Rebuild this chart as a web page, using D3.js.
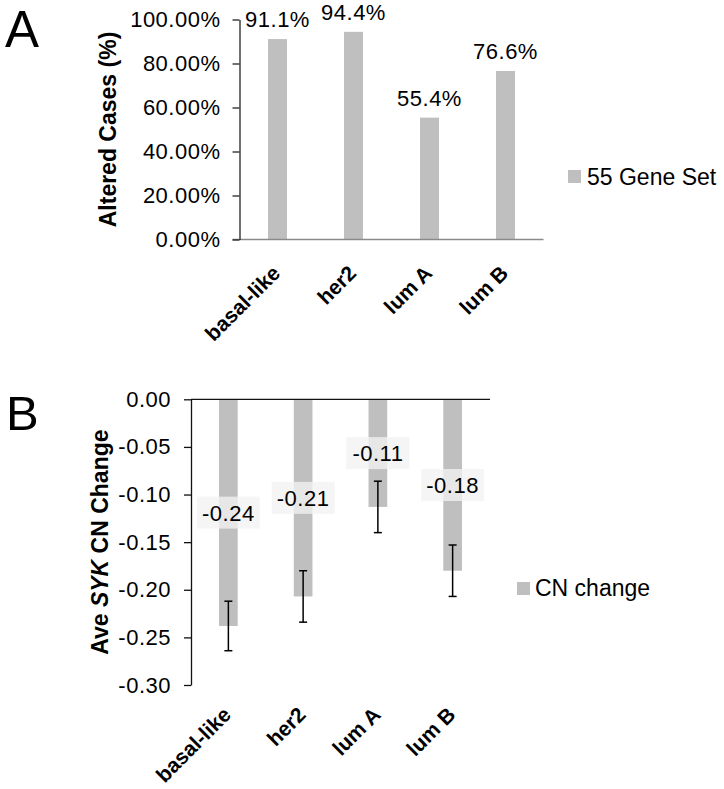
<!DOCTYPE html>
<html>
<head>
<meta charset="utf-8">
<script src="https://cdn.jsdelivr.net/npm/d3@7"></script>
<style>
  html, body { margin: 0; padding: 0; background: #fff; }
  svg { display: block; font-family: "Liberation Sans", Arial, sans-serif; }
</style>
</head>
<body>
<svg id="chart" width="724" height="789"></svg>
<script>
// ---- Data ----
const categories = ["basal-like", "her2", "lum A", "lum B"];
// Panel A: altered cases (%)
const alteredValues = [91.1, 94.4, 55.4, 76.6];
const alteredTicks = [0, 20, 40, 60, 80, 100];
const alteredSeriesName = "55 Gene Set";
// Panel B: average SYK copy-number change
const cnValues = [-0.238, -0.207, -0.113, -0.180];
const cnErrors = [0.026, 0.027, 0.027, 0.027];
const cnTicks = [0, -0.05, -0.10, -0.15, -0.20, -0.25, -0.30];
const cnSeriesName = "CN change";

const BAR = "#bfbfbf";
const svg = d3.select("#chart");

// ================= Panel A =================
const A = { left: 239.5, right: 543.5, top: 19.5, bottom: 239.5 };
const xA = d3.scaleBand().domain(categories).range([A.left, A.right])
  .paddingInner(0.75).paddingOuter(0.375);
const yA = d3.scaleLinear().domain([0, 100]).range([A.bottom, A.top]);

svg.append("text").attr("x", 5).attr("y", 47)
  .attr("font-size", 51).attr("fill", "#000").text("A");

svg.selectAll("rect.barA").data(alteredValues).enter().append("rect")
  .attr("class", "barA")
  .attr("x", (d, i) => xA(categories[i]))
  .attr("width", xA.bandwidth())
  .attr("y", d => yA(d))
  .attr("height", d => yA(0) - yA(d))
  .attr("fill", BAR);

// baseline (gray)
svg.append("line").attr("x1", A.left - 7).attr("x2", A.right)
  .attr("y1", yA(0)).attr("y2", yA(0))
  .attr("stroke", "#8a8a8a").attr("stroke-width", 1.3);

const axA = svg.append("g").attr("transform", `translate(${A.left},0)`)
  .call(d3.axisLeft(yA).tickValues(alteredTicks)
    .tickFormat(d => d3.format(".2f")(d) + "%")
    .tickSize(7).tickPadding(12).tickSizeOuter(0));
axA.select(".domain").attr("stroke", "#222").attr("stroke-width", 1.3);
axA.selectAll(".tick line").attr("stroke", "#222").attr("stroke-width", 1.3);
axA.selectAll(".tick text").attr("font-size", 22).attr("fill", "#000")
  .attr("letter-spacing", "0.5px").attr("font-family", "Liberation Sans, Arial, sans-serif");

svg.selectAll("text.lblA").data(alteredValues).enter().append("text")
  .attr("class", "lblA")
  .attr("x", (d, i) => xA(categories[i]) + xA.bandwidth() / 2)
  .attr("y", d => yA(d) - 12)
  .attr("text-anchor", "middle").attr("font-size", 22)
  .attr("letter-spacing", "0.5px").attr("fill", "#000")
  .text(d => d3.format(".1f")(d) + "%");

svg.selectAll("text.catA").data(categories).enter().append("text")
  .attr("class", "catA")
  .attr("transform", d => `translate(${xA(d) + xA.bandwidth() / 2 + 4},${A.bottom + 35}) rotate(-45)`)
  .attr("text-anchor", "end").attr("font-size", 21).attr("font-weight", "bold")
  .attr("fill", "#000").text(d => d);

svg.append("text")
  .attr("transform", `translate(116,${(A.top + A.bottom) / 2}) rotate(-90)`)
  .attr("text-anchor", "middle").attr("font-size", 23).attr("font-weight", "bold")
  .attr("fill", "#000").text("Altered Cases (%)");

// legend A
svg.append("rect").attr("x", 568).attr("y", 170).attr("width", 13).attr("height", 13).attr("fill", BAR);
svg.append("text").attr("x", 587).attr("y", 185).attr("font-size", 23).attr("fill", "#000")
  .text(alteredSeriesName);

// ================= Panel B =================
const B = { left: 191, right: 490, top: 399.3, bottom: 685 };
const xB = d3.scaleBand().domain(categories).range([B.left, B.right])
  .paddingInner(0.75).paddingOuter(0.375);
const yB = d3.scaleLinear().domain([0, -0.30]).range([B.top, B.bottom]);

svg.append("text").attr("x", 6).attr("y", 430)
  .attr("font-size", 49).attr("fill", "#000").text("B");

svg.selectAll("rect.barB").data(cnValues).enter().append("rect")
  .attr("class", "barB")
  .attr("x", (d, i) => xB(categories[i]))
  .attr("width", xB.bandwidth())
  .attr("y", yB(0))
  .attr("height", d => yB(d) - yB(0))
  .attr("fill", BAR);

// error bars
const eb = svg.selectAll("g.err").data(cnValues).enter().append("g").attr("class", "err");
eb.append("line")
  .attr("x1", (d, i) => xB(categories[i]) + xB.bandwidth() / 2)
  .attr("x2", (d, i) => xB(categories[i]) + xB.bandwidth() / 2)
  .attr("y1", (d, i) => yB(d + cnErrors[i]))
  .attr("y2", (d, i) => yB(d - cnErrors[i]))
  .attr("stroke", "#000").attr("stroke-width", 1.5);
[1, -1].forEach(s => {
  eb.append("line")
    .attr("x1", (d, i) => xB(categories[i]) + xB.bandwidth() / 2 - 4)
    .attr("x2", (d, i) => xB(categories[i]) + xB.bandwidth() / 2 + 4)
    .attr("y1", (d, i) => yB(d + s * cnErrors[i]))
    .attr("y2", (d, i) => yB(d + s * cnErrors[i]))
    .attr("stroke", "#000").attr("stroke-width", 1.5);
});

// top axis line at 0
svg.append("line").attr("x1", B.left).attr("x2", B.right)
  .attr("y1", yB(0)).attr("y2", yB(0))
  .attr("stroke", "#111").attr("stroke-width", 1.3);

const axB = svg.append("g").attr("transform", `translate(${B.left},0)`)
  .call(d3.axisLeft(yB).tickValues(cnTicks)
    .tickFormat(d3.format(".2f"))
    .tickSize(7).tickPadding(13).tickSizeOuter(0));
axB.select(".domain").attr("stroke", "#111").attr("stroke-width", 1.3);
axB.selectAll(".tick line").attr("stroke", "#111").attr("stroke-width", 1.3);
axB.selectAll(".tick text").attr("font-size", 22).attr("fill", "#000")
  .attr("letter-spacing", "0.5px").attr("font-family", "Liberation Sans, Arial, sans-serif")
  .text(d => d3.format(".2f")(d).replace("−", "-"));

// data labels with boxes
const lb = svg.selectAll("g.lblB").data(cnValues).enter().append("g").attr("class", "lblB")
  .attr("transform", (d, i) => `translate(${xB(categories[i]) + xB.bandwidth() / 2},${yB(d / 2)})`);
lb.append("rect").attr("x", -31.5).attr("y", -16).attr("width", 63).attr("height", 32)
  .attr("fill", "#f2f2f2").attr("opacity", 0.78);
lb.append("text").attr("y", 8).attr("text-anchor", "middle").attr("font-size", 22)
  .attr("letter-spacing", "0.5px").attr("fill", "#000")
  .text(d => d3.format(".2f")(d).replace("−", "-"));

svg.selectAll("text.catB").data(categories).enter().append("text")
  .attr("class", "catB")
  .attr("transform", d => `translate(${xB(d) + xB.bandwidth() / 2 + 4},${B.bottom + 31}) rotate(-45)`)
  .attr("text-anchor", "end").attr("font-size", 21).attr("font-weight", "bold")
  .attr("fill", "#000").text(d => d);

const tB = svg.append("text")
  .attr("transform", `translate(108,${(B.top + B.bottom) / 2}) rotate(-90)`)
  .attr("text-anchor", "middle").attr("font-size", 23).attr("font-weight", "bold")
  .attr("fill", "#000");
tB.append("tspan").text("Ave ");
tB.append("tspan").attr("font-style", "italic").text("SYK");
tB.append("tspan").text(" CN Change");

// legend B
svg.append("rect").attr("x", 517).attr("y", 582).attr("width", 13).attr("height", 13).attr("fill", BAR);
svg.append("text").attr("x", 535).attr("y", 596).attr("font-size", 23).attr("fill", "#000")
  .text(cnSeriesName);
</script>
</body>
</html>
